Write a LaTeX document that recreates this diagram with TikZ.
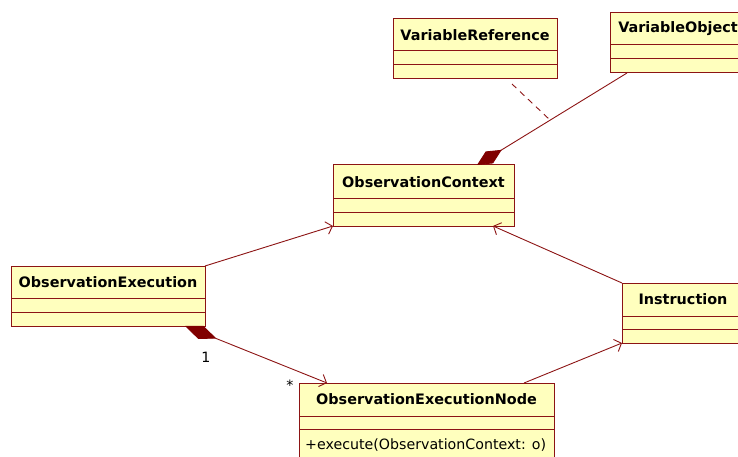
\documentclass[tikz,border=0pt]{standalone}
\usepackage{fontspec}
\setmainfont{DejaVu Sans}
\usetikzlibrary{arrows.meta,calc}
\definecolor{umlred}{RGB}{140,20,20}
\definecolor{umldark}{RGB}{128,0,0}
\definecolor{umlfill}{RGB}{255,255,190}
\newcommand\umlbold{\fontsize{14.4}{16}\selectfont\bfseries}
\newcommand\umlreg{\fontsize{14.2}{16}\selectfont}
\tikzset{
  cls/.style={draw=umlred, fill=umlfill, line width=1pt, inner sep=0pt, outer sep=0pt, anchor=north west},
  ttl/.style={font=\umlbold, text=black, inner sep=0pt},
  attr/.style={font=\umlreg, text=black, inner sep=0pt, anchor=west},
  divider/.style={draw=umlred, line width=1pt},
  conn/.style={draw=umlred, line width=0.9pt},
  navig/.style={-{Straight Barb[length=6pt,width=13pt,line width=0.9pt]}},
  compo/.style={{Diamond[length=#1,width=14pt,fill=umldark,color=umldark]}-},
  componavig/.style={arrows={Diamond[length=#1,width=14pt,fill=umldark,color=umldark]-Straight Barb[length=6pt,width=13pt,line width=0.9pt]}},
  multlabel/.style={font=\umlreg, text=black, inner sep=0pt}
}
\begin{document}
\begin{tikzpicture}[x=1pt,y=-1pt]
\useasboundingbox (0,0) rectangle (738,457);
\clip (0,0) rectangle (738,457);

% VariableReference
\node[cls, minimum width=164pt, minimum height=60pt] (vr) at (393,19) {};
\draw[divider] (393,51) -- (557,51) (393,65) -- (557,65);
\node[ttl] (vrt) at (475,35) {VariableReference};

% VariableObject
\node[cls, minimum width=136pt, minimum height=60pt] (vo) at (610,13) {};
\draw[divider] (610,45) -- (746,45) (610,59) -- (746,59);
\node[ttl] (vot) at (678,29) {VariableObject};

% ObservationContext
\node[cls, minimum width=181pt, minimum height=61pt] (oc) at (333,165) {};
\draw[divider] (333,198) -- (514,198) (333,212) -- (514,212);
\node[ttl] (oct) at (423.5,182) {ObservationContext};

% ObservationExecution
\node[cls, minimum width=194pt, minimum height=60pt] (oe) at (11,266) {};
\draw[divider] (11,298) -- (205,298) (11,312) -- (205,312);
\node[ttl] (oet) at (108,282) {ObservationExecution};

% Instruction
\node[cls, minimum width=122pt, minimum height=60pt] (ins) at (622,283) {};
\draw[divider] (622,316) -- (744,316) (622,329) -- (744,329);
\node[ttl] (inst) at (683,299) {Instruction};

% ObservationExecutionNode
\node[cls, minimum width=255pt, minimum height=90pt] (oen) at (299,383) {};
\draw[divider] (299,416) -- (554,416) (299,429) -- (554,429);
\node[ttl] (oent) at (426.5,399) {ObservationExecutionNode};
\node[attr] (oena) at (305,445) {+execute(ObservationContext: o)};

% connectors
\draw[conn, navig] (oe.north east) -- (oc.south west);
\draw[conn, navig] (ins.north west) -- ([xshift=-21pt]oc.south east);
\draw[conn, navig] ([xshift=-30pt]oen.north east) -- (ins.south west);
\draw[conn, componavig=34pt] ([xshift=-20pt]oe.south east) -- ([xshift=28pt]oen.north west);
\draw[conn, compo=29pt] ([xshift=-37pt]oc.north east) -- ([xshift=17pt]vo.south west);

\coordinate (dstart) at (512,84);
\coordinate (dend) at (550,120);
\draw[conn, dashed, dash pattern=on 6pt off 5pt] (dstart) -- (dend);

\node[multlabel] (m1) at (206,357) {1};
\node[multlabel] (m2) at (290,385) {*};
\end{tikzpicture}
\end{document}
